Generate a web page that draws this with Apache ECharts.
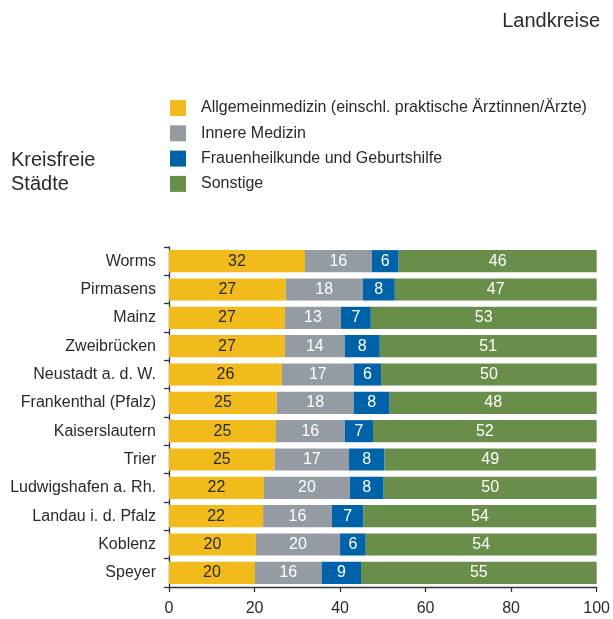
<!DOCTYPE html>
<html>
<head>
<meta charset="utf-8">
<script src="https://cdn.jsdelivr.net/npm/echarts@6/dist/echarts.min.js"></script>
<style>
  html, body { margin: 0; padding: 0; background: #fff; }
  #chart { width: 613px; height: 619px; }
</style>
</head>
<body>
<div id="chart"></div>
<script>
// Kreisfreie Städte, Anteile der Fachrichtungen in %
const cities = ['Worms', 'Pirmasens', 'Mainz', 'Zweibrücken', 'Neustadt a. d. W.', 'Frankenthal (Pfalz)',
  'Kaiserslautern', 'Trier', 'Ludwigshafen a. Rh.', 'Landau i. d. Pfalz', 'Koblenz', 'Speyer'];
const seriesNames = ['Allgemeinmedizin (einschl. praktische Ärztinnen/Ärzte)', 'Innere Medizin',
  'Frauenheilkunde und Geburtshilfe', 'Sonstige'];
// Werte aus der Grafik geschätzt (Beschriftung gerundet)
const allgemein = [31.8, 27.3, 27.1, 27.1, 26.4, 25.2, 25.0, 24.7, 22.2, 22.0, 20.3, 20.1];
const innere    = [15.6, 18.0, 13.1, 14.0, 16.8, 18.0, 16.1, 17.4, 20.1, 16.1, 19.7, 15.6];
const frauen    = [6.3, 7.5, 7.0, 8.2, 6.4, 8.4, 6.6, 8.3, 7.9, 7.4, 6.0, 9.2];
const sonstige  = [46.3, 47.2, 52.8, 50.7, 50.4, 48.4, 52.3, 49.4, 49.8, 54.4, 54.0, 55.1];
const xTicks = [0, 20, 40, 60, 80, 100];

const colors = ['#f0bb1b', '#959ba2', '#0063a9', '#688e4a'];
const labelColors = ['#2a2a2a', '#ffffff', '#ffffff', '#ffffff'];
const fontFamily = '"Liberation Sans", Arial, sans-serif';

const chart = echarts.init(document.getElementById('chart'));

const values = [allgemein, innere, frauen, sonstige];
const series = values.map((data, i) => ({
  type: 'bar',
  name: seriesNames[i],
  stack: 'total',
  data: data,
  barCategoryGap: '22%',
  itemStyle: { color: colors[i] },
  label: {
    show: true,
    position: 'inside',
    color: labelColors[i],
    fontSize: 16,
    fontFamily: fontFamily,
    formatter: p => Math.round(p.value)
  }
}));

const option = {
  animation: false,
  backgroundColor: '#fff',
  title: [
    {
      text: 'Landkreise',
      right: 8, top: 6,
      textStyle: { fontSize: 20, fontWeight: 'normal', color: '#2a2a2a', fontFamily: fontFamily, lineHeight: 20 }
    },
    {
      text: 'Kreisfreie\nStädte',
      left: 6, top: 143,
      textStyle: { fontSize: 20, fontWeight: 'normal', color: '#2a2a2a', fontFamily: fontFamily, lineHeight: 24 }
    }
  ],
  legend: {
    orient: 'vertical',
    left: 165, top: 95,
    itemWidth: 16, itemHeight: 16,
    itemGap: 9.3,
    icon: 'rect',
    selectedMode: false,
    data: seriesNames,
    textStyle: { fontSize: 16, color: '#2a2a2a', fontFamily: fontFamily, padding: [0, 0, 0, 10] }
  },
  grid: { left: 169, right: 16, top: 247, bottom: 32, containLabel: false },
  xAxis: {
    type: 'value',
    min: 0, max: 100, interval: 20,
    splitLine: { show: false },
    axisLine: { show: true, lineStyle: { color: '#333', width: 1.3 } },
    axisTick: { show: true, length: 5, lineStyle: { color: '#333', width: 1.3 } },
    axisLabel: {
      fontSize: 16, color: '#2a2a2a', fontFamily: fontFamily, margin: 14,
      formatter: v => (xTicks.indexOf(v) >= 0 ? String(v) : '')
    }
  },
  yAxis: {
    type: 'category',
    inverse: true,
    data: cities,
    axisLine: { show: true, lineStyle: { color: '#333', width: 1.3 } },
    axisTick: { show: true, length: 5, lineStyle: { color: '#333', width: 1.3 } },
    axisLabel: { fontSize: 16, color: '#2a2a2a', fontFamily: fontFamily, margin: 13 }
  },
  series: series
};

chart.setOption(option);
</script>
</body>
</html>
